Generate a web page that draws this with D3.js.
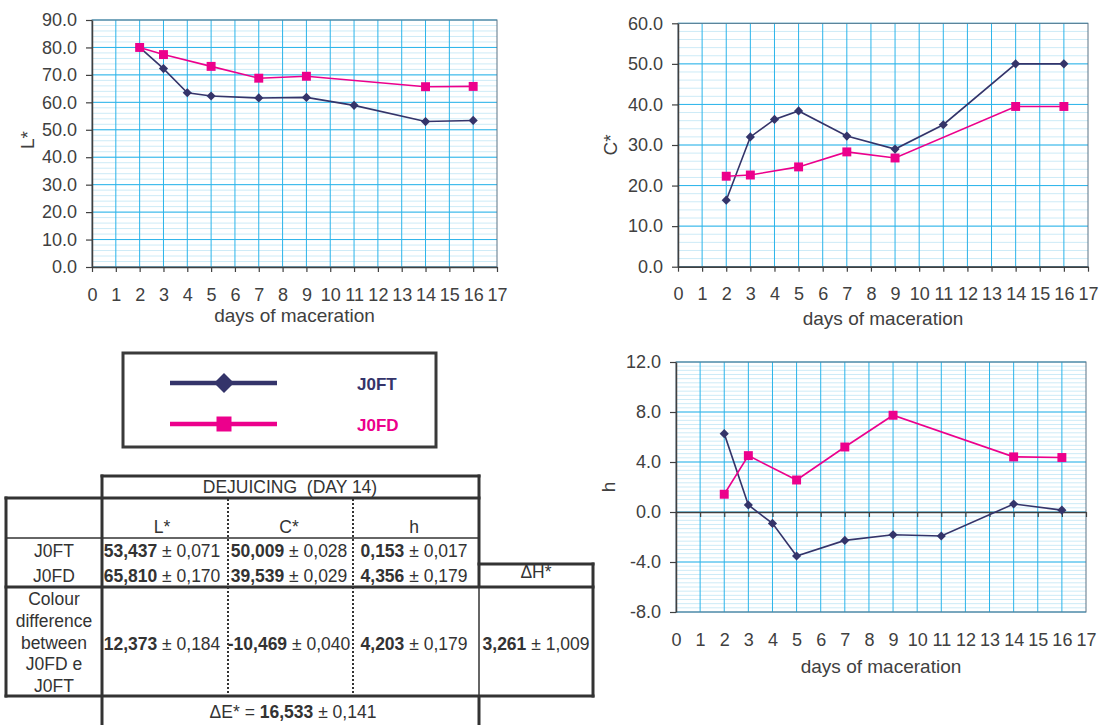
<!DOCTYPE html>
<html>
<head>
<meta charset="utf-8">
<script src="https://cdn.jsdelivr.net/npm/d3@7"></script>
<style>
body { margin: 0; background: #fff; }
svg { display: block; }
text { font-family: "Liberation Sans", Arial, sans-serif; white-space: pre; }
</style>
</head>
<body>
<div id="chart"></div>
<script>
// days on the x axis
var dayTicks = [0, 1, 2, 3, 4, 5, 6, 7, 8, 9, 10, 11, 12, 13, 14, 15, 16, 17];
var ftDays = [2, 3, 4, 5, 7, 9, 11, 14, 16];
var fdDays = [2, 3, 5, 7, 9, 14, 16];

// L*
var lTicks = [0, 10, 20, 30, 40, 50, 60, 70, 80, 90];
var ftL = [80.0, 72.3, 63.5, 62.3, 61.6, 61.8, 58.9, 53.0, 53.4];
var fdL = [80.0, 77.4, 73.1, 68.8, 69.5, 65.7, 65.8];

// C*
var cTicks = [0, 10, 20, 30, 40, 50, 60];
var ftC = [16.4, 32.0, 36.3, 38.4, 32.2, 29.0, 35.0, 50.0, 50.0];
var fdC = [22.3, 22.6, 24.6, 28.3, 26.8, 39.5, 39.5];

// h
var hTicks = [-8, -4, 0, 4, 8, 12];
var ftH = [6.27, 0.56, -0.91, -3.52, -2.27, -1.82, -1.92, 0.64, 0.15];
var fdH = [1.42, 4.51, 2.56, 5.2, 7.74, 4.41, 4.36];

// series names
var seriesNames = ["J0FT", "J0FD"];

// table (day 14)
var tableCols = ["L*", "C*", "h"];
var tableRowNames = ["J0FT", "J0FD"];
var tableFT = [["53,437", "0,071"], ["50,009", "0,028"], ["0,153", "0,017"]];
var tableFD = [["65,810", "0,170"], ["39,539", "0,029"], ["4,356", "0,179"]];
var tableDiff = [["12,373", "0,184"], ["-10,469", "0,040"], ["4,203", "0,179"]];
var tableDH = ["3,261", "1,009"];
var tableDE = ["16,533", "0,141"];

var navy = "#34346a";
var pink = "#ec008c";
var axisGrey = "#404040";
var gridBlue = "#2ab4ea";
var minorBlue = "#cdebf7";

var svg = d3.select("#chart")
    .append("svg")
    .attr("width", 1104)
    .attr("height", 725);

var fmt = d3.format(".1f");

function panel(o) {
    var x = d3.scaleLinear().domain([0, 17]).range([o.left, o.right]);
    var y = d3.scaleLinear()
        .domain([o.ticks[0], o.ticks[o.ticks.length - 1]])
        .range([o.bottom, o.top]);
    var g = svg.append("g");

    //minor horizontal grid
    var step = (o.ticks[1] - o.ticks[0]) / o.minorPer;
    var nMinor = (o.ticks.length - 1) * o.minorPer;
    var minor = d3.range(1, nMinor).map(function (i) { return o.ticks[0] + i * step; });
    g.selectAll(".minor").data(minor).enter().append("line")
        .attr("x1", o.left).attr("x2", o.right)
        .attr("y1", function (d) { return y(d); })
        .attr("y2", function (d) { return y(d); })
        .attr("stroke", minorBlue).attr("stroke-width", 1);

    //major horizontal grid
    g.selectAll(".hmaj").data(o.ticks).enter().append("line")
        .attr("x1", o.left).attr("x2", o.right)
        .attr("y1", function (d) { return y(d); })
        .attr("y2", function (d) { return y(d); })
        .attr("stroke", gridBlue).attr("stroke-width", 1);

    //vertical grid
    g.selectAll(".vmaj").data(dayTicks.slice(1, -1)).enter().append("line")
        .attr("x1", function (d) { return x(d); })
        .attr("x2", function (d) { return x(d); })
        .attr("y1", o.top).attr("y2", o.bottom)
        .attr("stroke", gridBlue).attr("stroke-width", 1);

    //plot border
    g.append("rect")
        .attr("x", o.left).attr("y", o.top)
        .attr("width", o.right - o.left).attr("height", o.bottom - o.top)
        .attr("fill", "none").attr("stroke", "#5d7586").attr("stroke-width", 1);

    //y axis
    var ya = g.append("g")
        .attr("transform", "translate(" + o.left + ",0)")
        .call(d3.axisLeft(y).tickValues(o.ticks)
            .tickFormat(function (d) { return fmt(d).replace("\u2212", "-"); })
            .tickSize(6).tickSizeOuter(0).tickPadding(9));

    //x axis ticks (at zero)
    var zeroY = y(Math.max(o.ticks[0], 0));
    var xa = g.append("g")
        .attr("transform", "translate(0," + zeroY + ")")
        .call(d3.axisBottom(x).tickValues(dayTicks).tickFormat("")
            .tickSize(5).tickSizeOuter(0));

    //x tick labels at the bottom
    var xl = g.append("g")
        .attr("transform", "translate(0," + o.bottom + ")")
        .call(d3.axisBottom(x).tickValues(dayTicks).tickSize(0).tickPadding(21));
    xl.select(".domain").remove();

    [ya, xa].forEach(function (a) {
        a.select(".domain").attr("stroke", axisGrey).attr("stroke-width", 1.5);
        a.selectAll(".tick line").attr("stroke", axisGrey).attr("stroke-width", 1.2);
    });
    [ya, xl].forEach(function (a) {
        a.selectAll("text")
            .attr("fill", axisGrey)
            .style("font-size", "18px")
            .style("font-family", "'Liberation Sans', Arial, sans-serif");
    });

    //axis titles
    g.append("text")
        .attr("transform", "translate(" + o.yTitleX + "," + o.yTitleY + ") rotate(-90)")
        .attr("text-anchor", "middle")
        .attr("dy", "0.35em")
        .attr("fill", axisGrey)
        .style("font-size", "19px")
        .text(o.yTitle);
    g.append("text")
        .attr("x", (o.left + o.right) / 2)
        .attr("y", o.xTitleY)
        .attr("text-anchor", "middle")
        .attr("fill", axisGrey)
        .style("font-size", "19px")
        .text("days of maceration");

    //series
    var line = d3.line()
        .x(function (d) { return x(d[0]); })
        .y(function (d) { return y(d[1]); });
    var ft = d3.zip(ftDays, o.ft);
    var fd = d3.zip(fdDays, o.fd);

    g.append("path").datum(ft)
        .attr("d", line).attr("fill", "none")
        .attr("stroke", navy).attr("stroke-width", 1.6);
    g.append("path").datum(fd)
        .attr("d", line).attr("fill", "none")
        .attr("stroke", pink).attr("stroke-width", 1.6);

    g.selectAll(".dia").data(ft).enter().append("path")
        .attr("d", d3.symbol(d3.symbolSquare, 42))
        .attr("transform", function (d) { return "translate(" + x(d[0]) + "," + y(d[1]) + ") rotate(45)"; })
        .attr("fill", navy);
    g.selectAll(".sq").data(fd).enter().append("path")
        .attr("d", d3.symbol(d3.symbolSquare, 80))
        .attr("transform", function (d) { return "translate(" + x(d[0]) + "," + y(d[1]) + ")"; })
        .attr("fill", pink);
}

panel({ left: 92, right: 497, top: 20, bottom: 267, ticks: lTicks, minorPer: 5,
    ft: ftL, fd: fdL, yTitle: "L*", yTitleX: 27, yTitleY: 140, xTitleY: 322 });
panel({ left: 678, right: 1088, top: 23.3, bottom: 266.7, ticks: cTicks, minorPer: 5,
    ft: ftC, fd: fdC, yTitle: "C*", yTitleX: 610, yTitleY: 145, xTitleY: 325 });
panel({ left: 676, right: 1086, top: 362, bottom: 612, ticks: hTicks, minorPer: 12,
    ft: ftH, fd: fdH, yTitle: "h", yTitleX: 608, yTitleY: 487, xTitleY: 673 });

//Legend
var leg = svg.append("g");
leg.append("rect")
    .attr("x", 123).attr("y", 353).attr("width", 313).attr("height", 94)
    .attr("fill", "#fff").attr("stroke", "#3a3a3a").attr("stroke-width", 3);
[[navy, 383, d3.symbolSquare, 200, 45], [pink, 424, d3.symbolSquare, 225, 0]].forEach(function (s, i) {
    leg.append("line")
        .attr("x1", 170).attr("x2", 277).attr("y1", s[1]).attr("y2", s[1])
        .attr("stroke", s[0]).attr("stroke-width", 4.5);
    leg.append("path")
        .attr("d", d3.symbol(s[2], s[3]))
        .attr("transform", "translate(224," + s[1] + ") rotate(" + s[4] + ")")
        .attr("fill", s[0]);
    leg.append("text")
        .attr("x", 357).attr("y", s[1] + 7)
        .attr("fill", s[0])
        .style("font-size", "17px").style("font-weight", "bold")
        .text(seriesNames[i]);
});

//Table
var tb = svg.append("g").attr("stroke", "#333");
function hl(x1, x2, yy, w) {
    tb.append("line").attr("x1", x1).attr("x2", x2).attr("y1", yy).attr("y2", yy).attr("stroke-width", w);
}
function vl(xx, y1, y2, w, dash) {
    var l = tb.append("line").attr("x1", xx).attr("x2", xx).attr("y1", y1).attr("y2", y2).attr("stroke-width", w);
    if (dash) l.attr("stroke-dasharray", dash);
}
hl(100.5, 480.5, 476, 3);
hl(4.5, 480.5, 498, 3);
hl(6, 479, 538, 1.5);
hl(477.5, 594.5, 564, 3);
hl(4.5, 594.5, 587, 3);
hl(4.5, 594.5, 696, 3);
vl(102, 474.5, 725, 3);
vl(479, 474.5, 587, 3);
vl(479, 587, 696, 1.5);
vl(479, 696, 725, 3);
vl(6, 496.5, 697.5, 3);
vl(593, 562.5, 697.5, 3);
vl(228, 499, 695, 2, "2,2");
vl(353, 499, 695, 2, "2,2");

var tt = svg.append("g").attr("fill", "#333").style("font-size", "17.5px");
function txt(xx, yy, s) {
    return tt.append("text").attr("x", xx).attr("y", yy).attr("text-anchor", "middle").text(s);
}
function val(xx, yy, v) {
    var t = tt.append("text").attr("x", xx).attr("y", yy).attr("text-anchor", "middle");
    t.append("tspan").style("font-weight", "bold").text(v[0]);
    t.append("tspan").text(" \u00b1 " + v[1]);
    return t;
}
var colX = [162, 289, 414];
txt(290, 493, "DEJUICING  (DAY 14)");
tableCols.forEach(function (c, i) { txt(colX[i], 533, c); });
txt(54, 557, tableRowNames[0]);
txt(54, 582, tableRowNames[1]);
["Colour", "difference", "between", "J0FD e", "J0FT"].forEach(function (s, i) {
    txt(54, 605 + i * 21.8, s);
});
tableFT.forEach(function (v, i) { val(colX[i], 557, v); });
tableFD.forEach(function (v, i) { val(colX[i], 582, v); });
tableDiff.forEach(function (v, i) { val(colX[i], 650, v); });
txt(536, 578, "\u0394H*");
val(536, 650, tableDH);
var de = tt.append("text").attr("x", 293).attr("y", 718).attr("text-anchor", "middle");
de.append("tspan").text("\u0394E* = ");
de.append("tspan").style("font-weight", "bold").text(tableDE[0]);
de.append("tspan").text(" \u00b1 " + tableDE[1]);
</script>
</body>
</html>
